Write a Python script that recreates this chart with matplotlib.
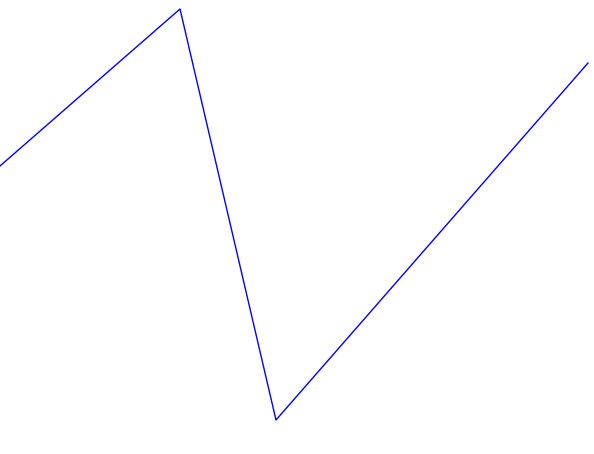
import matplotlib
matplotlib.use("Agg")
import matplotlib.pyplot as plt

# points (x to the right, y upward)
xs = [0, 180, 276, 588]
ys = [288, 445, 34, 391]

fig = plt.figure(figsize=(5.94, 4.54), dpi=100)
ax = fig.add_axes([0, 0, 1, 1])
ax.plot(xs, ys, color="blue", lw=1.0)
ax.set_xlim(0, 594)
ax.set_ylim(0, 454)
ax.axis("off")
fig.savefig("out.png", dpi=100)
